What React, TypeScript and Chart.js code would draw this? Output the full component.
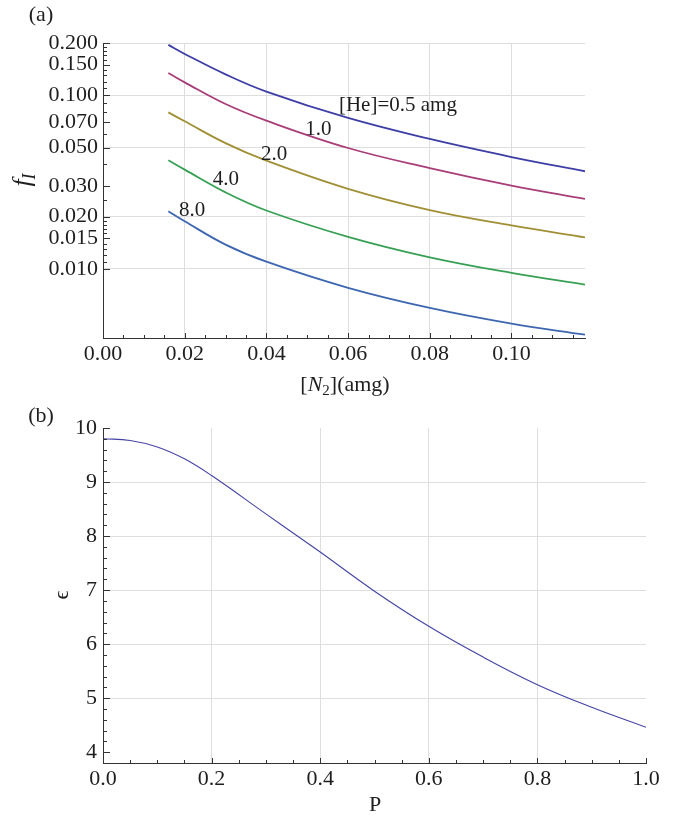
import React, { useEffect, useRef } from 'react';
import { Chart, registerables } from 'chart.js';

Chart.register(...registerables);

const FONT = "'Liberation Serif', 'Times New Roman', serif";

// ---------- Panel (a) data ----------
const n2Values = [0.016, 0.02, 0.03, 0.04, 0.06, 0.08, 0.10, 0.118];
const fHe05 = [0.195, 0.173, 0.132, 0.105, 0.074, 0.056, 0.0441, 0.0365];
const fHe10 = [0.1344, 0.1187, 0.089, 0.0714, 0.0497, 0.0381, 0.0302, 0.0253];
const fHe20 = [0.0797, 0.0708, 0.053, 0.042, 0.0289, 0.0218, 0.0178, 0.0152];
const fHe40 = [0.0422, 0.0373, 0.0276, 0.0217, 0.0153, 0.01166, 0.00948, 0.00812];
const fHe80 = [0.02146, 0.0188, 0.0138, 0.011, 0.00778, 0.00596, 0.00484, 0.00418];
const heSeries = [fHe05, fHe10, fHe20, fHe40, fHe80];
const heColors = ['#3d3da6', '#a83d78', '#a08f35', '#38a055', '#3d66b0'];
const heLabels = ['[He]=0.5 amg', '1.0', '2.0', '4.0', '8.0'];
const heLabelX = [0.0722, 0.0527, 0.0419, 0.0301, 0.0218];
const heLabelY = [0.0871, 0.0634, 0.0455, 0.0327, 0.0217];

const fTickLabels = [0.2, 0.15, 0.1, 0.07, 0.05, 0.03, 0.02, 0.015, 0.01];
const fMinorTicks = [
  0.011, 0.012, 0.013, 0.014, 0.016, 0.017, 0.018, 0.019, 0.025, 0.04, 0.06,
  0.08, 0.09, 0.11, 0.12, 0.13, 0.14, 0.16, 0.17, 0.18, 0.19,
];
const fGridValues = [0.2, 0.1, 0.05, 0.02, 0.01];
const n2TickLabels = [0, 0.02, 0.04, 0.06, 0.08, 0.1];
const n2GridValues = [0.02, 0.04, 0.06, 0.08, 0.1];

// ---------- Panel (b) data ----------
const pValues = [0, 0.05, 0.1, 0.15, 0.2, 0.3, 0.358, 0.4, 0.5, 0.6, 0.7, 0.8, 0.9, 1.0];
const epsValues = [9.8, 9.77, 9.65, 9.43, 9.12, 8.41, 8.0, 7.705, 6.98, 6.33, 5.76, 5.25, 4.83, 4.46];
const pTickLabels = [0, 0.2, 0.4, 0.6, 0.8, 1.0];
const pGridValues = [0.2, 0.4, 0.6, 0.8];
const epsTickLabels = [4, 5, 6, 7, 8, 9, 10];
const epsGridValues = [5, 6, 7, 8, 9];

const near = (list: number[], v: number) => list.some((l) => Math.abs(l - v) < 1e-9);

type Run = { t: string; italic?: boolean; sub?: boolean };

function drawRuns(ctx: CanvasRenderingContext2D, runs: Run[], cx: number, cy: number, size: number, rot: boolean) {
  ctx.save();
  ctx.translate(cx, cy);
  if (rot) ctx.rotate(-Math.PI / 2);
  const parts = runs.map((r) => {
    const fs = r.sub ? Math.round(size * 0.7) : size;
    const font = `${r.italic ? 'italic ' : ''}${fs}px ${FONT}`;
    ctx.font = font;
    return { r, font, w: ctx.measureText(r.t).width };
  });
  const total = parts.reduce((a, p) => a + p.w, 0);
  let x = -total / 2;
  ctx.textBaseline = 'middle';
  ctx.textAlign = 'left';
  ctx.fillStyle = '#1e1e1e';
  parts.forEach((p) => {
    ctx.font = p.font;
    ctx.fillText(p.r.t, x, p.r.sub ? size * 0.28 : 0);
    x += p.w;
  });
  ctx.restore();
}

type TextItem = { runs: Run[]; x: number; y: number; size: number; rot?: boolean; data?: boolean };

const makeTextPlugin = (items: TextItem[]) => ({
  id: 'mmaText',
  afterDraw(chart: any) {
    const ctx = chart.ctx as CanvasRenderingContext2D;
    items.forEach((it) => {
      let x = it.x;
      let y = it.y;
      if (it.data) {
        x = chart.scales.x.getPixelForValue(it.x);
        y = chart.scales.y.getPixelForValue(it.y);
      }
      drawRuns(ctx, it.runs, x, y, it.size, !!it.rot);
    });
  },
});

const mmaTicks = {
  id: 'mmaTicks',
  afterDraw(chart: any) {
    const ctx = chart.ctx as CanvasRenderingContext2D;
    const ca = chart.chartArea;
    const xs = chart.scales.x;
    const ys = chart.scales.y;
    ctx.save();
    ctx.strokeStyle = '#333';
    ctx.lineWidth = 1;
    xs.ticks.forEach((t: any) => {
      const px = Math.round(xs.getPixelForValue(t.value)) + 0.5;
      const len = t.label ? 5 : 3;
      ctx.beginPath();
      ctx.moveTo(px, ca.bottom);
      ctx.lineTo(px, ca.bottom - len);
      ctx.stroke();
    });
    ys.ticks.forEach((t: any) => {
      const py = Math.round(ys.getPixelForValue(t.value)) + 0.5;
      const len = t.label ? 7 : 4;
      ctx.beginPath();
      ctx.moveTo(ca.left, py);
      ctx.lineTo(ca.left + len, py);
      ctx.stroke();
    });
    ctx.restore();
  },
};

const tickFont = { family: FONT, size: 22 };
const GRID = '#dedede';

export default function App() {
  const refA = useRef<HTMLCanvasElement>(null);
  const refB = useRef<HTMLCanvasElement>(null);

  useEffect(() => {
    const xTicksA: number[] = [];
    for (let i = 0; i <= 23; i++) xTicksA.push(Math.round(i * 5) / 1000);
    const yTicksA = [...fTickLabels, ...fMinorTicks].sort((a, b) => a - b);

    const chartA = new Chart(refA.current!, {
      type: 'line',
      data: {
        datasets: heSeries.map((s, i) => ({
          label: heLabels[i],
          data: n2Values.map((x, j) => ({ x, y: s[j] })),
          borderColor: heColors[i],
          borderWidth: 1.8,
          pointRadius: 0,
          fill: false,
          tension: 0.4,
        })),
      },
      options: {
        animation: false,
        responsive: false,
        devicePixelRatio: 1,
        layout: { padding: { top: 43, right: 96, left: 0, bottom: 0 } },
        plugins: { legend: { display: false }, tooltip: { enabled: false } },
        scales: {
          x: {
            type: 'linear',
            min: 0,
            max: 0.118,
            afterBuildTicks: (s: any) => {
              s.ticks = xTicksA.map((v) => ({ value: v }));
            },
            afterFit: (s: any) => {
              s.height = 62;
            },
            ticks: {
              autoSkip: false,
              maxRotation: 0,
              padding: 3,
              font: tickFont,
              color: '#1e1e1e',
              callback: (v: any) => (near(n2TickLabels, Number(v)) ? Number(v).toFixed(2) : ''),
            },
            grid: {
              drawTicks: false,
              lineWidth: 1,
              color: (c: any) => (c.tick && near(n2GridValues, c.tick.value) ? GRID : 'rgba(0,0,0,0)'),
            },
            border: { display: true, color: '#333', width: 1 },
          },
          y: {
            type: 'logarithmic',
            min: 0.004,
            max: 0.2,
            afterBuildTicks: (s: any) => {
              s.ticks = yTicksA.map((v) => ({ value: v }));
            },
            afterFit: (s: any) => {
              s.width = 103;
            },
            ticks: {
              autoSkip: false,
              padding: 5,
              font: tickFont,
              color: '#1e1e1e',
              callback: (v: any) => (near(fTickLabels, Number(v)) ? Number(v).toFixed(3) : ''),
            },
            grid: {
              drawTicks: false,
              lineWidth: 1,
              color: (c: any) => (c.tick && near(fGridValues, c.tick.value) ? GRID : 'rgba(0,0,0,0)'),
            },
            border: { display: true, color: '#333', width: 1 },
          },
        },
      },
      plugins: [
        mmaTicks,
        makeTextPlugin([
          { runs: [{ t: '(a)' }], x: 41, y: 15, size: 22 },
          { runs: [{ t: 'f', italic: true }, { t: 'I', italic: true, sub: true }], x: 23, y: 180, size: 26, rot: true },
          {
            runs: [{ t: '[' }, { t: 'N', italic: true }, { t: '2', sub: true }, { t: '](amg)' }],
            x: 345,
            y: 385,
            size: 22,
          },
          ...heLabels.map((l, i) => ({
            runs: [{ t: l }],
            x: heLabelX[i],
            y: heLabelY[i],
            size: 21,
            data: true,
          })),
        ]),
      ],
    } as any);

    const xTicksB: number[] = [];
    for (let i = 0; i <= 20; i++) xTicksB.push(Math.round(i * 5) / 100);
    const yTicksB: number[] = [];
    for (let i = 0; i <= 31; i++) yTicksB.push(Math.round(38 + i * 2) / 10);

    const chartB = new Chart(refB.current!, {
      type: 'line',
      data: {
        datasets: [
          {
            label: 'epsilon',
            data: pValues.map((x, j) => ({ x, y: epsValues[j] })),
            borderColor: '#4343a3',
            borderWidth: 1.1,
            pointRadius: 0,
            fill: false,
            tension: 0.4,
          },
        ],
      },
      options: {
        animation: false,
        responsive: false,
        devicePixelRatio: 1,
        layout: { padding: { top: 28, right: 35, left: 0, bottom: 0 } },
        plugins: { legend: { display: false }, tooltip: { enabled: false } },
        scales: {
          x: {
            type: 'linear',
            min: 0,
            max: 1,
            afterBuildTicks: (s: any) => {
              s.ticks = xTicksB.map((v) => ({ value: v }));
            },
            afterFit: (s: any) => {
              s.height = 54;
            },
            ticks: {
              autoSkip: false,
              maxRotation: 0,
              padding: 3,
              font: tickFont,
              color: '#1e1e1e',
              callback: (v: any) => (near(pTickLabels, Number(v)) ? Number(v).toFixed(1) : ''),
            },
            grid: {
              drawTicks: false,
              lineWidth: 1,
              color: (c: any) => (c.tick && near(pGridValues, c.tick.value) ? GRID : 'rgba(0,0,0,0)'),
            },
            border: { display: true, color: '#333', width: 1 },
          },
          y: {
            type: 'linear',
            min: 3.8,
            max: 10,
            afterBuildTicks: (s: any) => {
              s.ticks = yTicksB.map((v) => ({ value: v }));
            },
            afterFit: (s: any) => {
              s.width = 103;
            },
            ticks: {
              autoSkip: false,
              padding: 6,
              font: tickFont,
              color: '#1e1e1e',
              callback: (v: any) => (near(epsTickLabels, Number(v)) ? Number(v).toFixed(0) : ''),
            },
            grid: {
              drawTicks: false,
              lineWidth: 1,
              color: (c: any) => (c.tick && near(epsGridValues, c.tick.value) ? GRID : 'rgba(0,0,0,0)'),
            },
            border: { display: true, color: '#333', width: 1 },
          },
        },
      },
      plugins: [
        mmaTicks,
        makeTextPlugin([
          { runs: [{ t: '(b)' }], x: 41, y: 16, size: 22 },
          { runs: [{ t: 'ϵ' }], x: 62, y: 195, size: 22, rot: true },
          { runs: [{ t: 'P' }], x: 375, y: 405, size: 22 },
        ]),
      ],
    } as any);

    return () => {
      chartA.destroy();
      chartB.destroy();
    };
  }, []);

  return (
    <div style={{ position: 'absolute', left: 0, top: 0, width: 681, height: 817, background: '#fff' }}>
      <canvas
        ref={refA}
        width={681}
        height={400}
        style={{ position: 'absolute', left: 0, top: 0, width: 681, height: 400, display: 'block' }}
      />
      <canvas
        ref={refB}
        width={681}
        height={417}
        style={{ position: 'absolute', left: 0, top: 400, width: 681, height: 417, display: 'block' }}
      />
    </div>
  );
}
